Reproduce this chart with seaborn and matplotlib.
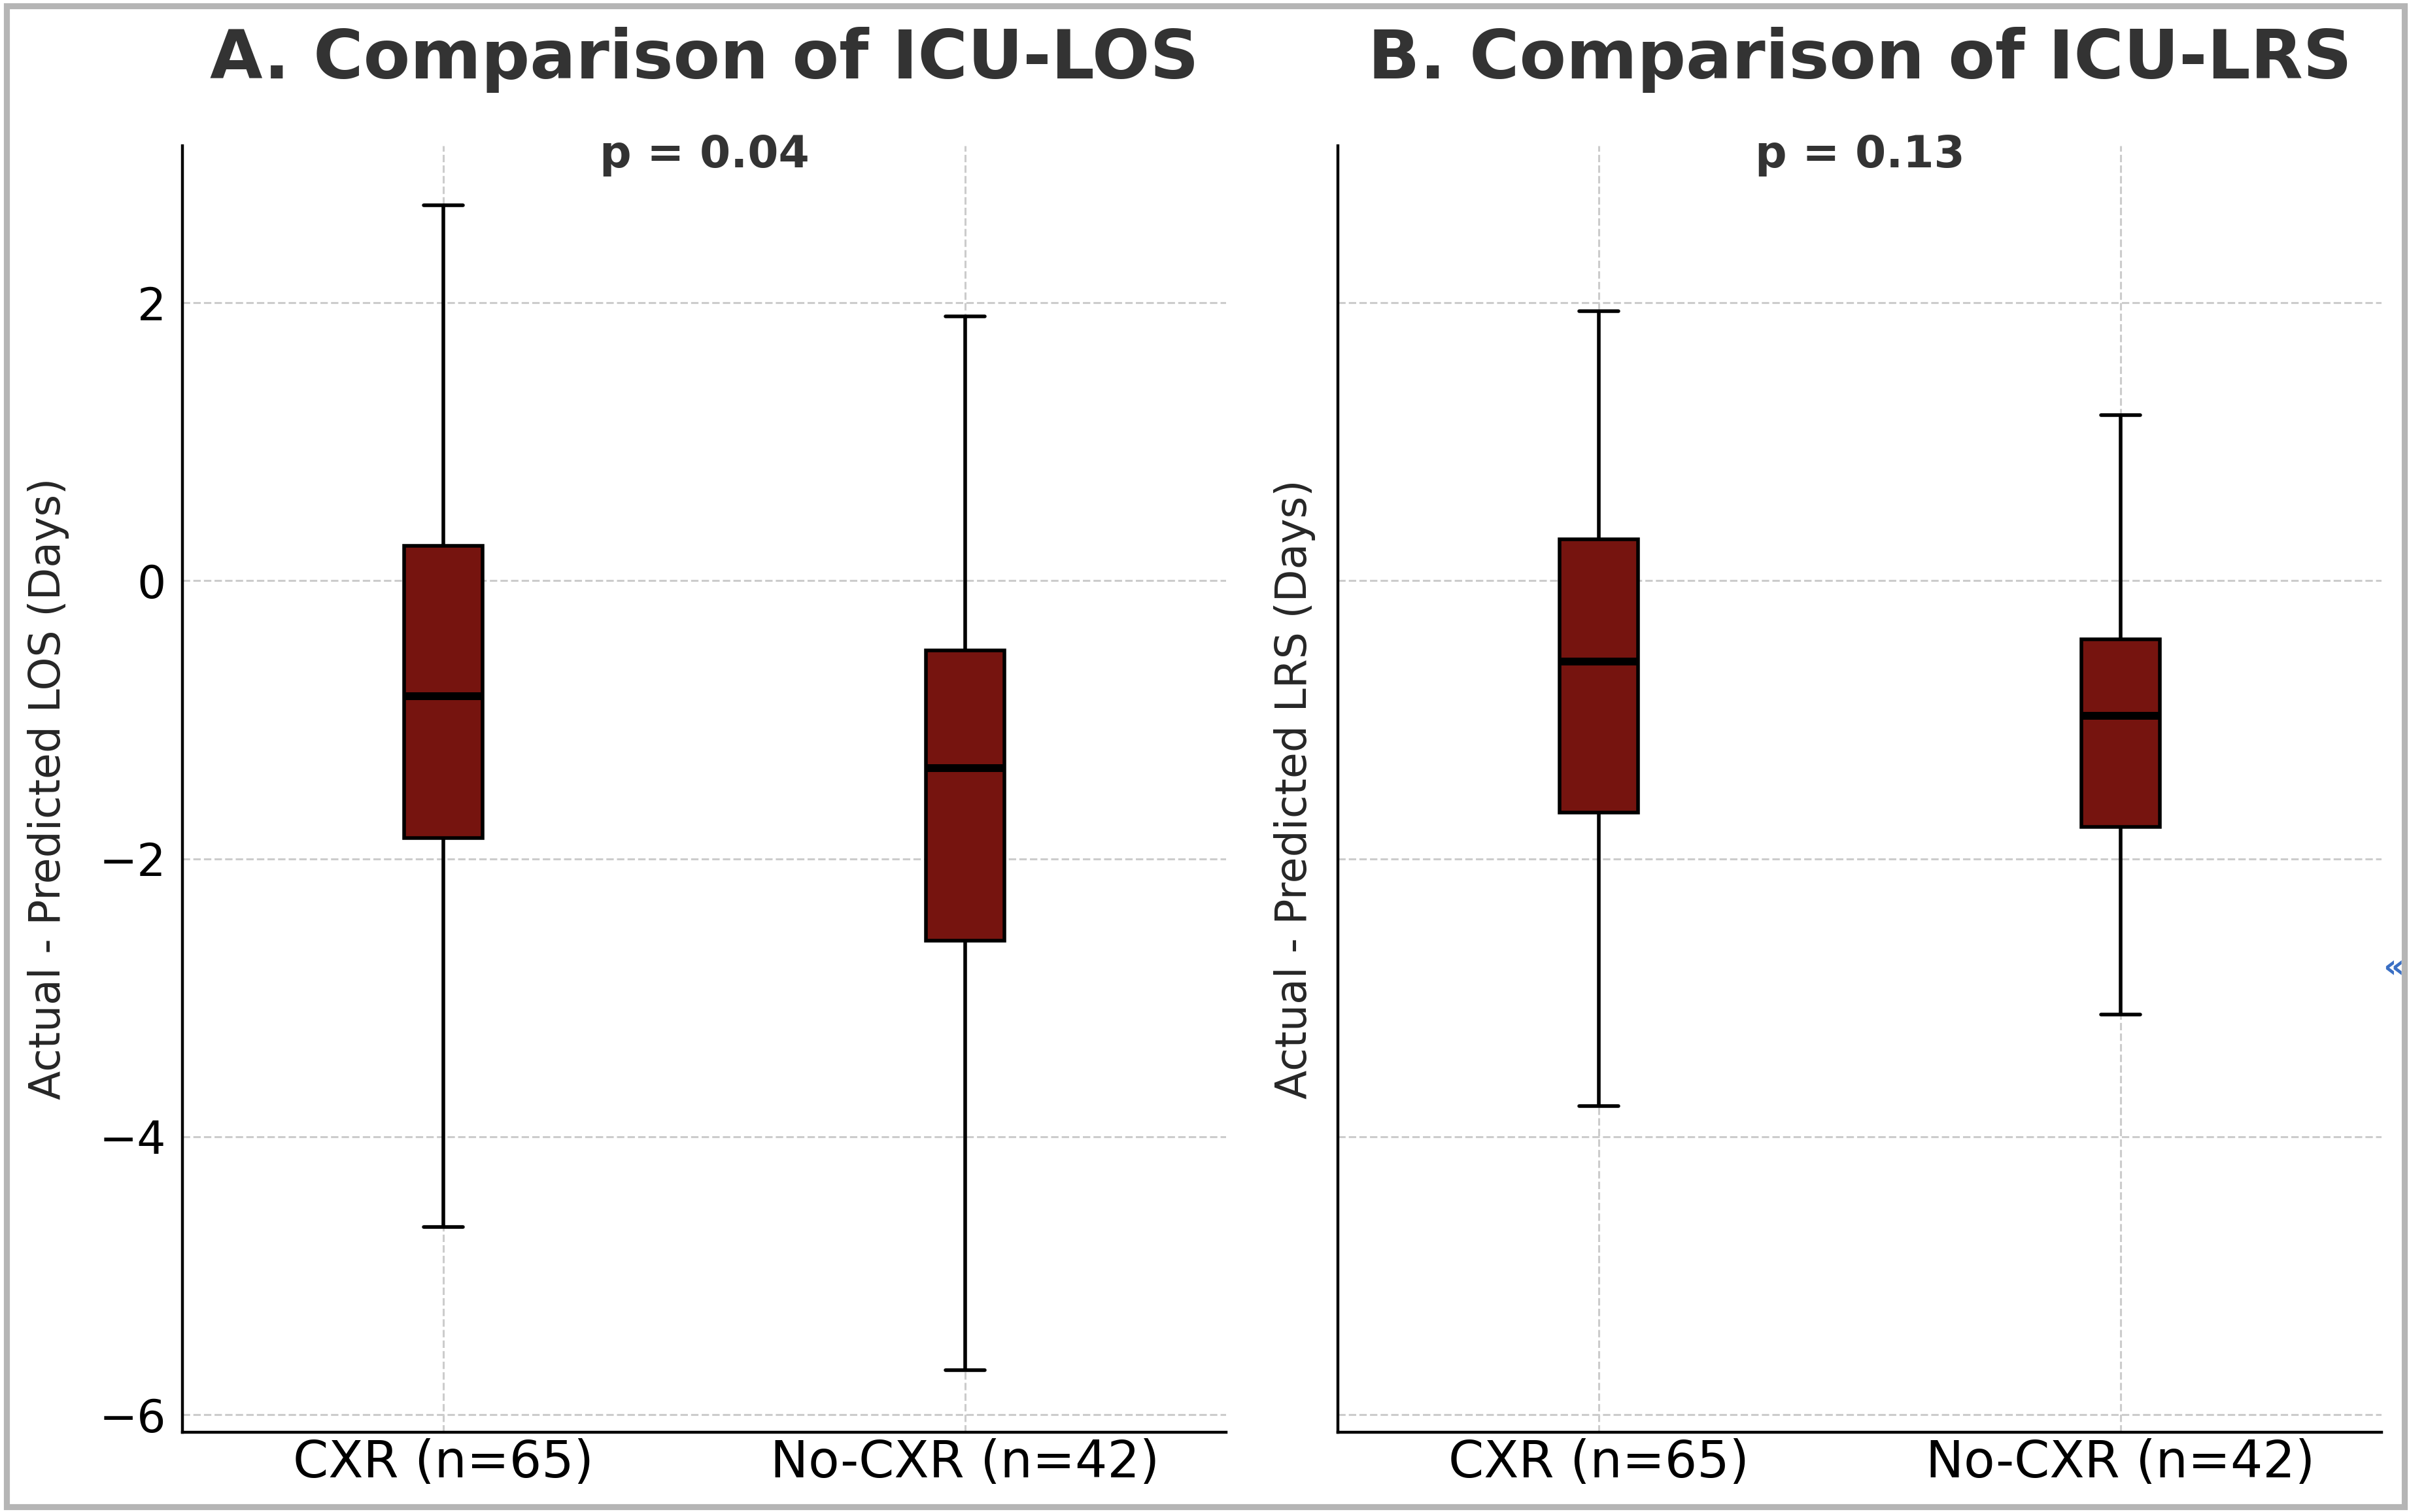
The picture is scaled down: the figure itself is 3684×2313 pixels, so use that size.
# Boxplots: actual - predicted ICU stay, CXR vs No-CXR

import pandas as pd
import matplotlib
matplotlib.use("Agg")
import matplotlib.pyplot as plt
import seaborn as sns
from matplotlib.patches import Rectangle

# 1. Data (min, Q1, median, Q3, max)
groups = ["CXR (n=65)", "No-CXR (n=42)"]

los_cxr = [-4.65, -1.85, -0.83, 0.25, 2.70]
los_nocxr = [-5.68, -2.59, -1.35, -0.50, 1.90]

lrs_cxr = [-3.78, -1.67, -0.58, 0.30, 1.94]
lrs_nocxr = [-3.12, -1.77, -0.97, -0.42, 1.19]

titles = ["A. Comparison of ICU-LOS", "B. Comparison of ICU-LRS"]
ylabels = ["Actual - Predicted LOS (Days)", "Actual - Predicted LRS (Days)"]
p_values = ["p = 0.04", "p = 0.13"]

box_color = "#76140f"

df_los = pd.DataFrame({
    "group": [groups[0]] * len(los_cxr) + [groups[1]] * len(los_nocxr),
    "value": los_cxr + los_nocxr,
})
df_lrs = pd.DataFrame({
    "group": [groups[0]] * len(lrs_cxr) + [groups[1]] * len(lrs_nocxr),
    "value": lrs_cxr + lrs_nocxr,
})

# 2. Style
sns.set_style("white")
plt.rcParams["font.family"] = ["DejaVu Sans"]
plt.rcParams["xtick.direction"] = "in"
plt.rcParams["ytick.direction"] = "in"

fig, axes = plt.subplots(1, 2, figsize=(18.42, 11.565), dpi=200, sharey=True)
fig.subplots_adjust(left=0.0757, right=0.9886, bottom=0.0529, top=0.9036, wspace=0.107)

label_x = [-0.108, -0.021]

for ax, df, title, ylab, ptxt, lx in zip(axes, [df_los, df_lrs], titles, ylabels, p_values, label_x):
    sns.boxplot(
        data=df, x="group", y="value", order=groups, ax=ax,
        color=box_color, saturation=1, width=0.15, whis=(0, 100),
        linecolor="black", linewidth=2,
        medianprops=dict(linewidth=4.3, color="black"),
        whiskerprops=dict(linewidth=2, color="black"),
        capprops=dict(linewidth=2, color="black"),
    )
    ax.set_xlim(-0.5, 1.5)
    ax.set_ylim(-6.125, 3.13)
    ax.set_yticks([-6, -4, -2, 0, 2])
    ax.grid(True, axis="both", linestyle="--", color="#cccccc", linewidth=1.1)
    ax.set_axisbelow(True)

    ax.set_title(title, fontsize=37.5, fontweight="bold", color="#333333", pad=37)
    ax.text(0.5, 2.91, ptxt, ha="center", va="bottom", fontsize=24.5,
            fontweight="bold", color="#333333")

    ax.set_xlabel("")
    ax.set_ylabel(ylab, fontsize=23.3)
    ax.yaxis.label.set_visible(True)
    ax.yaxis.set_label_coords(lx, 0.5)

    ax.tick_params(axis="x", labelsize=28, length=5.5, width=1.5, pad=3.5, colors="black")
    ax.tick_params(axis="y", labelsize=25, length=6.5, width=1.5, pad=9, colors="black")

    for side in ["top", "right"]:
        ax.spines[side].set_visible(False)
    for side in ["left", "bottom"]:
        ax.spines[side].set_color("black")
        ax.spines[side].set_linewidth(1.6)

axes[1].tick_params(axis="y", labelleft=False)

# 3. Gray frame around the figure
W, H = 3684, 2313
fig.patches.append(Rectangle(
    (9.5 / W, 8.5 / H), (3676.5 - 9.5) / W, (2304 - 8.5) / H,
    transform=fig.transFigure, fill=False, edgecolor="#b5b5b5", linewidth=3.3,
))
fig.text(3660 / W, 1 - 1481 / H, "«", fontsize=18, fontweight="bold",
         color="#3a6fc4", ha="center", va="center")

plt.savefig("out.png", dpi=200)
plt.close()
